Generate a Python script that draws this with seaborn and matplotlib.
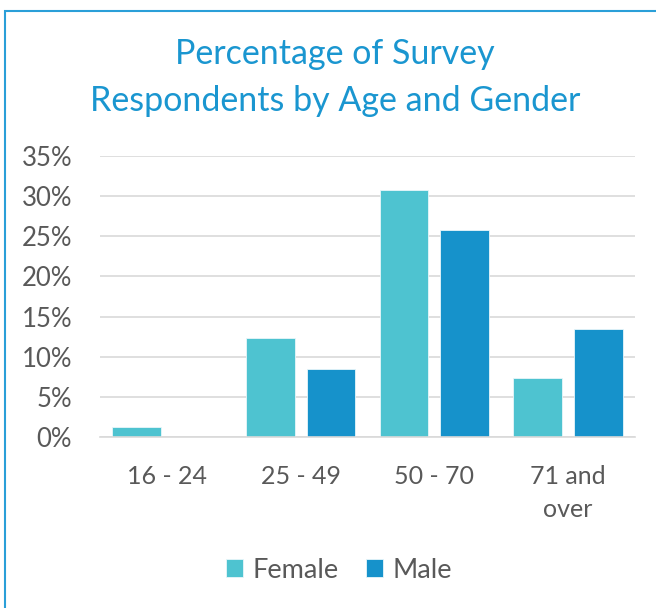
import pandas as pd
import numpy as np
import matplotlib
matplotlib.use("Agg")
import matplotlib.pyplot as plt
import matplotlib.patches as mpatches
import seaborn as sns

# data (percent)
age_groups = ["16 - 24", "25 - 49", "50 - 70", "71 and\nover"]
female = [1.2, 12.3, 30.8, 7.3]
male = [0.0, 8.5, 25.8, 13.5]
genders = ["Female", "Male"]
colors = ["#4EC3D0", "#1692CB"]

df = pd.DataFrame({
    "age": age_groups * 2,
    "gender": ["Female"] * len(female) + ["Male"] * len(male),
    "pct": female + male,
})

sns.set_theme(style="white")
plt.rcParams['font.family'] = ['Lato', 'DejaVu Sans']

fig = plt.figure(figsize=(6.56, 6.08), dpi=100)
ax = fig.add_axes([100/656, 1-437/608, 535/656, 281/608])

sns.barplot(data=df, x="age", y="pct", hue="gender", order=age_groups,
            hue_order=genders, palette=colors, saturation=1, width=0.91, gap=0.2,
            edgecolor="#E8F6FA", linewidth=0.6, ax=ax)

ax.set_ylim(0, 35)
ax.set_yticks(np.arange(0, 36, 5))
ax.set_yticklabels([f"{v}%" for v in range(0, 36, 5)])
ax.yaxis.grid(True, color="#D9D9D9", linewidth=1.2)
ax.set_axisbelow(True)
ax.set_xlabel("")
ax.set_ylabel("")
for s in ["top", "right", "left"]:
    ax.spines[s].set_visible(False)
ax.spines["bottom"].set_color("#D9D9D9")
ax.spines["bottom"].set_linewidth(1.2)
ax.tick_params(axis="y", length=0, pad=20, labelsize=18.5, labelcolor="#595959")
ax.tick_params(axis="x", length=0, pad=20, labelsize=18, labelcolor="#595959")
for lab in ax.get_xticklabels():
    lab.set_linespacing(1.55)

leg = ax.get_legend()
handles = leg.legend_handles
labels = [t.get_text() for t in leg.get_texts()]
leg.remove()
fig.legend(handles, labels, loc="center", bbox_to_anchor=(339/656, 1-570/608),
           ncol=2, frameon=False, fontsize=19.5, labelcolor="#595959",
           handlelength=0.62, handleheight=0.62, handletextpad=0.35,
           columnspacing=1.0)

title_color = "#1A96D0"
fig.text(335/656, 1-64/608, "Percentage of Survey", ha="center", va="baseline",
         fontsize=24.5, color=title_color)
fig.text(335/656, 1-111/608, "Respondents by Age and Gender", ha="center",
         va="baseline", fontsize=24.5, color=title_color)

# chart frame
fig.patches.append(mpatches.Rectangle((4.5/656, -0.1), 1.2, (608-11)/608 + 0.1,
                                      transform=fig.transFigure, fill=False,
                                      edgecolor="#2A9FD8", linewidth=1.5))

fig.savefig("out.png", dpi=100)
